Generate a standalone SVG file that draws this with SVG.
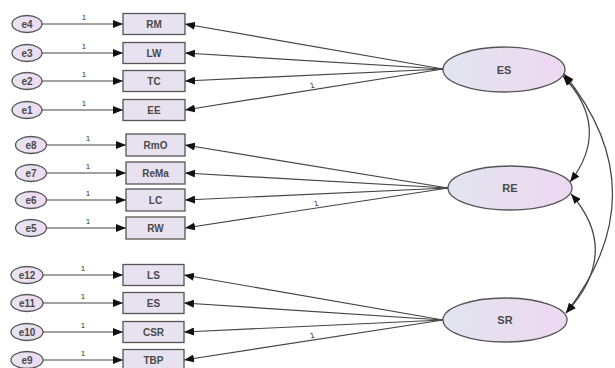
<svg xmlns="http://www.w3.org/2000/svg" width="615" height="368" viewBox="0 0 615 368">
<defs>
<linearGradient id="lat" x1="0" y1="0" x2="1" y2="0">
<stop offset="0" stop-color="#e2e5ef"/>
<stop offset="1" stop-color="#eed8f2"/>
</linearGradient>
<linearGradient id="err" x1="0" y1="0" x2="1" y2="0">
<stop offset="0" stop-color="#e6e6f0"/>
<stop offset="1" stop-color="#eedaf2"/>
</linearGradient>
<marker id="ah" viewBox="0 0 10 8" refX="10" refY="4" markerWidth="10" markerHeight="8" markerUnits="userSpaceOnUse" orient="auto-start-reverse">
<path d="M0,0 L10,4 L0,8 z" fill="#111"/>
</marker>
<style>
.lv{fill:url(#lat);stroke:#555;stroke-width:1.3}
.ev{fill:url(#err);stroke:#555;stroke-width:1.3}
.ob{fill:#e8e2f0;stroke:#555;stroke-width:1.3}
.t{font-family:"Liberation Sans",Arial,sans-serif;font-weight:bold;fill:#4a4a4a;text-anchor:middle;dominant-baseline:central}
.s{font-size:10px}
.l{font-size:11px}
.n{font-family:"Liberation Sans",Arial,sans-serif;font-size:8px;fill:#333;text-anchor:middle}
.c{fill:none;stroke:#444;stroke-width:1.2}
</style>
</defs>
<g id="connectors">
<line class="c" x1="42" y1="24" x2="123" y2="24" marker-end="url(#ah)"/>
<line class="c" x1="42" y1="53" x2="123" y2="53" marker-end="url(#ah)"/>
<line class="c" x1="42" y1="81" x2="123" y2="81" marker-end="url(#ah)"/>
<line class="c" x1="42" y1="110" x2="123" y2="110" marker-end="url(#ah)"/>
<line class="c" x1="47" y1="145" x2="126" y2="145" marker-end="url(#ah)"/>
<line class="c" x1="47" y1="173" x2="126" y2="173" marker-end="url(#ah)"/>
<line class="c" x1="47" y1="200" x2="126" y2="200" marker-end="url(#ah)"/>
<line class="c" x1="47" y1="228" x2="126" y2="228" marker-end="url(#ah)"/>
<line class="c" x1="43" y1="275" x2="123" y2="275" marker-end="url(#ah)"/>
<line class="c" x1="43" y1="303" x2="123" y2="303" marker-end="url(#ah)"/>
<line class="c" x1="43" y1="332" x2="123" y2="332" marker-end="url(#ah)"/>
<line class="c" x1="43" y1="360" x2="123" y2="360" marker-end="url(#ah)"/>
<line class="c" x1="443" y1="69" x2="185" y2="24" marker-end="url(#ah)"/>
<line class="c" x1="443" y1="69" x2="185" y2="53" marker-end="url(#ah)"/>
<line class="c" x1="443" y1="69" x2="185" y2="81" marker-end="url(#ah)"/>
<line class="c" x1="443" y1="69" x2="185" y2="110" marker-end="url(#ah)"/>
<line class="c" x1="448" y1="188" x2="185" y2="145" marker-end="url(#ah)"/>
<line class="c" x1="448" y1="188" x2="185" y2="173" marker-end="url(#ah)"/>
<line class="c" x1="448" y1="188" x2="185" y2="200" marker-end="url(#ah)"/>
<line class="c" x1="448" y1="188" x2="185" y2="228" marker-end="url(#ah)"/>
<line class="c" x1="443" y1="320" x2="184" y2="275" marker-end="url(#ah)"/>
<line class="c" x1="443" y1="320" x2="184" y2="303" marker-end="url(#ah)"/>
<line class="c" x1="443" y1="320" x2="184" y2="332" marker-end="url(#ah)"/>
<line class="c" x1="443" y1="320" x2="184" y2="360" marker-end="url(#ah)"/>
<path class="c" d="M563,76 Q612,128 570,182" marker-start="url(#ah)" marker-end="url(#ah)"/>
<path class="c" d="M564,74 Q660,192 566,313" marker-start="url(#ah)" marker-end="url(#ah)"/>
<path class="c" d="M571,194 Q622,252 566,313" marker-start="url(#ah)" marker-end="url(#ah)"/>
<text class="n" x="84" y="20">1</text>
<text class="n" x="84" y="49">1</text>
<text class="n" x="84" y="77">1</text>
<text class="n" x="84" y="106">1</text>
<text class="n" x="88" y="141">1</text>
<text class="n" x="88" y="169">1</text>
<text class="n" x="88" y="196">1</text>
<text class="n" x="88" y="224">1</text>
<text class="n" x="83" y="271">1</text>
<text class="n" x="83" y="299">1</text>
<text class="n" x="83" y="328">1</text>
<text class="n" x="83" y="356">1</text>
<text class="n" x="312" y="88" transform="rotate(-12 312 85)">1</text>
<text class="n" x="316" y="206" transform="rotate(-12 316 203)">1</text>
<text class="n" x="312" y="338" transform="rotate(-12 312 335)">1</text>
</g>
<g id="e4"><ellipse class="ev" cx="27" cy="24" rx="15" ry="8.5"/><text class="t s" x="27" y="24">e4</text></g>
<g id="e3"><ellipse class="ev" cx="27" cy="53" rx="15" ry="8.5"/><text class="t s" x="27" y="53">e3</text></g>
<g id="e2"><ellipse class="ev" cx="27" cy="81" rx="15" ry="8.5"/><text class="t s" x="27" y="81">e2</text></g>
<g id="e1"><ellipse class="ev" cx="27" cy="110" rx="15" ry="8.5"/><text class="t s" x="27" y="110">e1</text></g>
<g id="e8"><ellipse class="ev" cx="31" cy="145" rx="15.5" ry="8.5"/><text class="t s" x="31" y="145">e8</text></g>
<g id="e7"><ellipse class="ev" cx="31" cy="173" rx="15.5" ry="8.5"/><text class="t s" x="31" y="173">e7</text></g>
<g id="e6"><ellipse class="ev" cx="31" cy="200" rx="15.5" ry="8.5"/><text class="t s" x="31" y="200">e6</text></g>
<g id="e5"><ellipse class="ev" cx="31" cy="228" rx="15.5" ry="8.5"/><text class="t s" x="31" y="228">e5</text></g>
<g id="e12"><ellipse class="ev" cx="27" cy="275" rx="16" ry="8.5"/><text class="t s" x="27" y="275">e12</text></g>
<g id="e11"><ellipse class="ev" cx="27" cy="303" rx="16" ry="8.5"/><text class="t s" x="27" y="303">e11</text></g>
<g id="e10"><ellipse class="ev" cx="27" cy="332" rx="16" ry="8.5"/><text class="t s" x="27" y="332">e10</text></g>
<g id="e9"><ellipse class="ev" cx="27" cy="360" rx="16" ry="8.5"/><text class="t s" x="27" y="360">e9</text></g>
<g id="RM"><rect class="ob" x="123" y="13.5" width="62" height="21"/><text class="t s" x="154" y="24">RM</text></g>
<g id="LW"><rect class="ob" x="123" y="42.5" width="62" height="21"/><text class="t s" x="154" y="53">LW</text></g>
<g id="TC"><rect class="ob" x="123" y="70.5" width="62" height="21"/><text class="t s" x="154" y="81">TC</text></g>
<g id="EE"><rect class="ob" x="123" y="99.5" width="62" height="21"/><text class="t s" x="154" y="110">EE</text></g>
<g id="RmO"><rect class="ob" x="126" y="134" width="59" height="22"/><text class="t s" x="155.5" y="145">RmO</text></g>
<g id="ReMa"><rect class="ob" x="126" y="162" width="59" height="22"/><text class="t s" x="155.5" y="173">ReMa</text></g>
<g id="LC"><rect class="ob" x="126" y="189" width="59" height="22"/><text class="t s" x="155.5" y="200">LC</text></g>
<g id="RW"><rect class="ob" x="126" y="217" width="59" height="22"/><text class="t s" x="155.5" y="228">RW</text></g>
<g id="LS"><rect class="ob" x="123" y="264.5" width="61" height="21"/><text class="t s" x="153.5" y="275">LS</text></g>
<g id="ES_obs"><rect class="ob" x="123" y="292.5" width="61" height="21"/><text class="t s" x="153.5" y="303">ES</text></g>
<g id="CSR"><rect class="ob" x="123" y="321.5" width="61" height="21"/><text class="t s" x="153.5" y="332">CSR</text></g>
<g id="TBP"><rect class="ob" x="123" y="349.5" width="61" height="21"/><text class="t s" x="153.5" y="360">TBP</text></g>
<g id="ES"><ellipse class="lv" cx="504" cy="69.5" rx="61" ry="22.5"/><text class="t l" x="504" y="69.5">ES</text></g>
<g id="RE"><ellipse class="lv" cx="510" cy="188" rx="62" ry="22"/><text class="t l" x="510" y="188">RE</text></g>
<g id="SR"><ellipse class="lv" cx="505" cy="320" rx="62" ry="22"/><text class="t l" x="505" y="320">SR</text></g>
</svg>
